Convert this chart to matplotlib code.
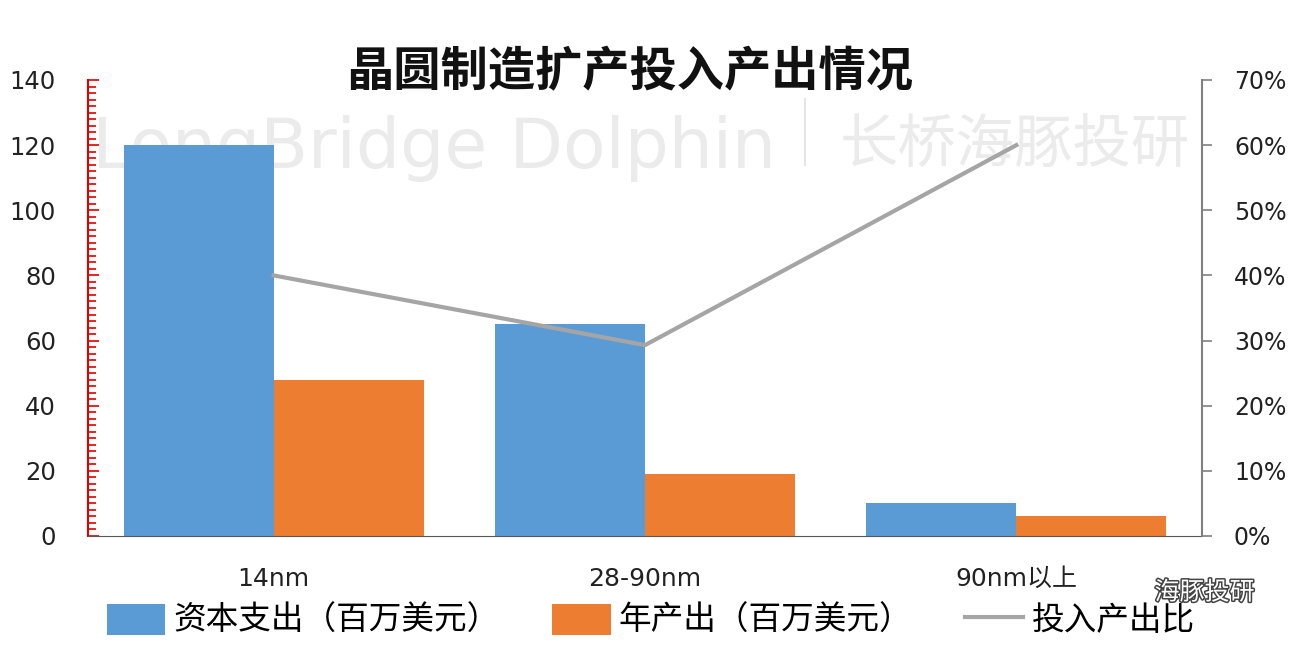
import matplotlib
matplotlib.use('Agg')
import matplotlib.pyplot as plt
import matplotlib.patheffects as pe
from matplotlib.ticker import MultipleLocator, PercentFormatter
import numpy as np

plt.rcParams['font.family'] = ['DejaVu Sans', 'Noto Sans CJK SC']

# data
cats = ['14nm', '28-90nm', '90nm以上']
capex = [120, 65, 10]        # 资本支出（百万美元）
output = [48, 19, 6]         # 年产出（百万美元）
ratio = [40, 29.3, 60]       # 投入产出比 (%)

blue = '#5b9bd5'
orange = '#ed7d31'
gray = '#a5a5a5'

fig = plt.figure(figsize=(12.96, 6.6), dpi=100)
ax = fig.add_axes([0.0679, 0.1879, 0.8596, 0.6909])
ax2 = ax.twinx()

# watermark (behind the axes)
fig.text(0.071, 0.775, 'LongBridge Dolphin', fontsize=50, color='#ebebeb',
         va='center', ha='left', zorder=-1)
fig.add_artist(plt.Line2D([0.621, 0.621], [0.75, 0.85], color='#e6e6e6', lw=1.5, zorder=-1))
fig.text(0.648, 0.78, '长桥海豚投研', fontsize=42, color='#ebebeb',
         va='center', ha='left', family=['Noto Sans CJK SC'], zorder=-1)

x = np.arange(len(cats))
w = 0.404
ax.bar(x - w / 2, capex, w, color=blue, label='资本支出（百万美元）', zorder=2)
ax.bar(x + w / 2, output, w, color=orange, label='年产出（百万美元）', zorder=2)
ax2.plot(x, ratio, color=gray, lw=3, label='投入产出比', zorder=3)

ax.set_xlim(-0.5, 2.5)
ax.set_ylim(0, 140)
ax2.set_ylim(0, 70)
ax.patch.set_alpha(0)

ax.set_xticks(x)
ax.set_xticklabels(cats, fontsize=18, color='#222222')
ax.tick_params(axis='x', length=0, pad=22)

ax.yaxis.set_major_locator(MultipleLocator(20))
ax.yaxis.set_minor_locator(MultipleLocator(2))
ax.tick_params(axis='y', which='major', direction='in', length=8, width=1.2,
               color='#e00000', labelsize=17.5, pad=23, labelcolor='#222222')
ax.tick_params(axis='y', which='minor', direction='in', length=6, width=1.2, color='#e00000')

ax2.yaxis.set_major_locator(MultipleLocator(10))
ax2.yaxis.set_major_formatter(PercentFormatter(decimals=0))
ax2.tick_params(axis='y', direction='out', length=7, width=1.2, color='#808080',
                labelsize=17, pad=16, labelcolor='#222222')

for a in (ax, ax2):
    a.spines['top'].set_visible(False)
ax.spines['right'].set_visible(False)
ax.spines['left'].set_color('#e00000')
ax.spines['left'].set_linewidth(1.5)
ax.spines['bottom'].set_color('#595959')
ax2.spines['left'].set_visible(False)
ax2.spines['bottom'].set_visible(False)
ax2.spines['right'].set_color('#808080')
ax2.spines['right'].set_linewidth(1.5)

fig.text(0.486, 0.891, '晶圆制造扩产投入产出情况', fontsize=34, fontweight='bold',
         ha='center', va='center', family=['Noto Sans CJK SC'], color='#111111')

h1, l1 = ax.get_legend_handles_labels()
h2, l2 = ax2.get_legend_handles_labels()
leg = fig.legend(h1 + h2, l1 + l2, loc='center', bbox_to_anchor=(0.502, 0.06), ncol=3,
                 frameon=False, handlelength=1.8, handleheight=1.1,
                 columnspacing=1.6, handletextpad=0.25,
                 prop={'family': ['Noto Sans CJK SC'], 'size': 23.5})

fig.text(0.968, 0.102, '海豚投研', fontsize=18, color='white', ha='right', va='center',
         family=['Noto Sans CJK SC'],
         path_effects=[pe.Stroke(linewidth=2.2, foreground='#444444'), pe.Normal()])

fig.savefig('out.png', dpi=100)
